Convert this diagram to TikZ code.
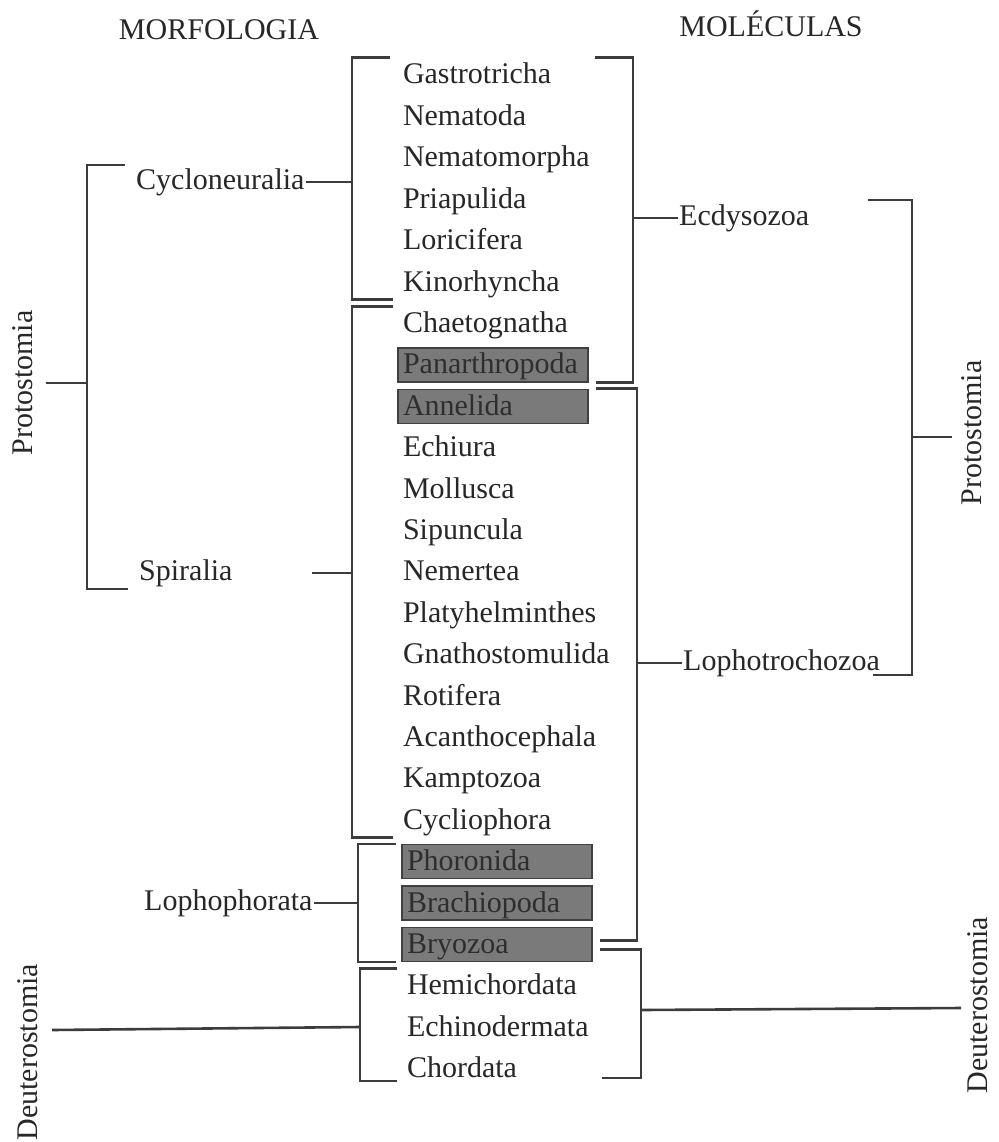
\documentclass[tikz,border=0pt]{standalone}
\usepackage{fontspec}
\setmainfont{Liberation Serif}
\usepackage{xcolor}
\usepackage{tikz}
\definecolor{tinta}{HTML}{272727}
\definecolor{traco}{HTML}{3C3C3C}
\tikzstyle{taxon} = [text width=180pt, inner xsep=5pt, inner ysep=4pt, text height=22pt, text depth=4pt, align=left, text=tinta]
\tikzstyle{caixa} = [taxon, fill=black!52, draw=black!75, line width=1.4pt, text=black!82]
\tikzstyle{grupo} = [inner sep=1pt, anchor=west, text=tinta]
\tikzstyle{titulo} = [inner sep=1pt, text=tinta]
\tikzstyle{chave} = [draw=traco, line width=2.6pt]

\begin{document}
\begin{tikzpicture}[x=1pt, y=1pt, node distance=41.4pt, font=\fontsize{30}{36}\selectfont]
   \useasboundingbox[fill=white] (0,0) rectangle (998,-1142);
   \node (mor) [titulo] at (219,-30) {MORFOLOGIA};
   \node (mlc) [titulo] at (771,-24) {MOLÉCULAS};

   \node (gas) [taxon] at (493,-75) {Gastrotricha};
   \node (nem) [taxon, below of=gas] {Nematoda};
   \node (nmo) [taxon, below of=nem] {Nematomorpha};
   \node (pri) [taxon, below of=nmo] {Priapulida};
   \node (lor) [taxon, below of=pri] {Loricifera};
   \node (kin) [taxon, below of=lor] {Kinorhyncha};
   \node (cha) [taxon, below of=kin] {Chaetognatha};
   \node (pan) [caixa, below of=cha] {Panarthropoda};
   \node (ann) [caixa, below of=pan] {Annelida};
   \node (ech) [taxon, below of=ann] {Echiura};
   \node (mol) [taxon, below of=ech] {Mollusca};
   \node (sip) [taxon, below of=mol] {Sipuncula};
   \node (nmt) [taxon, below of=sip] {Nemertea};
   \node (pla) [taxon, below of=nmt] {Platyhelminthes};
   \node (gna) [taxon, below of=pla] {Gnathostomulida};
   \node (rot) [taxon, below of=gna] {Rotifera};
   \node (aca) [taxon, below of=rot] {Acanthocephala};
   \node (kam) [taxon, below of=aca] {Kamptozoa};
   \node (cyl) [taxon, below of=kam] {Cycliophora};
   \node (pho) [caixa, below of=cyl, xshift=4pt] {Phoronida};
   \node (bra) [caixa, below of=pho] {Brachiopoda};
   \node (bry) [caixa, below of=bra] {Bryozoa};
   \node (hem) [taxon, below of=bry] {Hemichordata};
   \node (eci) [taxon, below of=hem] {Echinodermata};
   \node (cho) [taxon, below of=eci] {Chordata};

   \node (cyc) [grupo] at (135,-182) {Cycloneuralia};
   \node (spi) [grupo] at (138,-573) {Spiralia};
   \node (lph) [grupo] at (143,-903) {Lophophorata};
   \node (ecd) [grupo] at (678,-218) {Ecdysozoa};
   \node (lpt) [grupo] at (682,-663) {Lophotrochozoa};
   \node (pro1) [titulo, rotate=90] at (23,-383) {Protostomia};
   \node (pro2) [titulo, rotate=90] at (972,-433) {Protostomia};
   \node (deu1) [titulo, rotate=90] at (28,-1052) {Deuterostomia};
   \node (deu2) [titulo, rotate=90] at (978,-1005) {Deuterostomia};

   % morfologia
   \coordinate (kc) at (352,-182);
   \coordinate (ks) at (352,-573);
   \coordinate (s0) at (312,-573);
   \coordinate (kl) at (358,-903);
   \coordinate (kd) at (360,-1027);
   \coordinate (d0) at (52,-1030);
   \coordinate (kp) at (87,-383);
   \coordinate (p0) at (46,-383);
   \coordinate (p1) at (125,-165);
   \coordinate (p2) at (128,-589);
   \draw [chave] ([xshift=-8pt]gas.north west) -| (kc) |- ([xshift=-5pt]kin.south west);
   \draw [chave] (cyc) -- (kc);
   \draw [chave] ([xshift=-5pt]cha.north west) -| (ks) |- ([xshift=-5pt]cyl.south west);
   \draw [chave] (s0) -- (ks);
   \draw [chave] ([xshift=-5pt]pho.north west) -| (kl) |- ([xshift=-5pt]bry.south west);
   \draw [chave] (lph) -- (kl);
   \draw [chave] ([xshift=-5pt]hem.north west) -| (kd) |- ([xshift=-5pt,yshift=5pt]cho.south west);
   \draw [chave] (d0) -- (kd);
   \draw [chave] (p1) -| (kp) |- (p2);
   \draw [chave] (p0) -- (kp);

   % moleculas
   \coordinate (ke) at (633,-218);
   \coordinate (kt) at (637,-663);
   \coordinate (kr) at (641,-1010);
   \coordinate (d1) at (961,-1008);
   \coordinate (kq) at (912,-437);
   \coordinate (q0) at (952,-437);
   \coordinate (q1) at (868,-200);
   \coordinate (q2) at (873,-675);
   \draw [chave] ([xshift=7pt]gas.north east) -| (ke) |- ([xshift=7pt]pan.south east);
   \draw [chave] (ke) -- (ecd);
   \draw [chave] ([xshift=7pt]ann.north east) -| (kt) |- ([xshift=7pt,yshift=4pt]bry.east);
   \draw [chave] (kt) -- (lpt);
   \draw [chave] ([xshift=7pt,yshift=-5pt]bry.east) -| (kr) |- ([xshift=10pt,yshift=8pt]cho.south east);
   \draw [chave] (kr) -- (d1);
   \draw [chave] (q1) -| (kq) |- (q2);
   \draw [chave] (kq) -- (q0);
\end{tikzpicture}
\end{document}
